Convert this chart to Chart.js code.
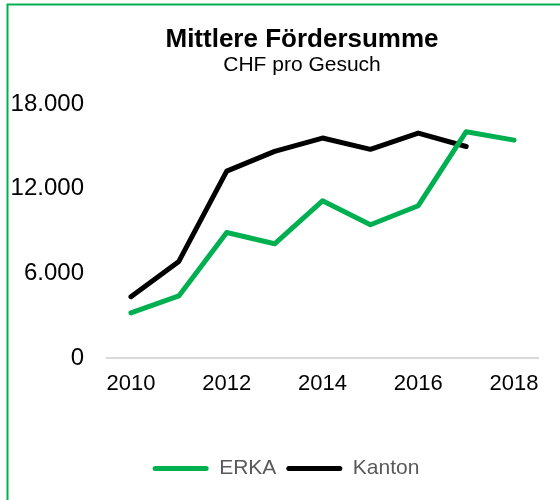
<!DOCTYPE html>
<html lang="de">
  <head>
    <meta charset="UTF-8" />
    <title>Mittlere Fördersumme</title>
    <script src="https://cdn.jsdelivr.net/npm/chart.js"></script>
    <style>
      html, body { margin: 0; padding: 0; background: #fff; }
    </style>
  </head>
  <body>
    <canvas id="chart" width="560" height="500"></canvas>
    <script>
      const years = ["2010", "2011", "2012", "2013", "2014", "2015", "2016", "2017", "2018"];
      const erka = [3200, 4400, 8900, 8100, 11150, 9450, 10800, 16050, 15450];
      const kanton = [4350, 6850, 13250, 14650, 15600, 14800, 15950, 15000, null];
      const yTicks = [0, 6000, 12000, 18000];

      const titleText = "Mittlere Fördersumme";
      const subtitleText = "CHF pro Gesuch";
      const green = "#00B050";
      const font = "Liberation Sans";

      const framePlugin = {
        id: "frame",
        afterLayout(chart) {
          // title and legend are not centred on the whole width in the original
          chart.boxes.forEach(b => {
            if (b.options && (b.options.text === titleText || b.options.text === subtitleText)) b.left = 66;
          });
          if (chart.legend) chart.legend.left = 34;
        },
        // green frame around the chart (cut off on the right and bottom)
        afterDraw(chart) {
          const ctx = chart.ctx;
          ctx.save();
          ctx.strokeStyle = green;
          ctx.lineWidth = 2;
          ctx.strokeRect(7.5, 4.5, 600, 600);
          ctx.restore();
        }
      };

      new Chart(document.getElementById("chart"), {
        type: "line",
        data: {
          labels: years,
          datasets: [
            { label: "ERKA", data: erka, borderColor: green, backgroundColor: green },
            { label: "Kanton", data: kanton, borderColor: "#000", backgroundColor: "#000" }
          ]
        },
        options: {
          responsive: false,
          animation: false,
          layout: { padding: { left: 0, right: 22, top: 0, bottom: 11 } },
          elements: {
            point: { radius: 0 },
            line: { borderWidth: 5, tension: 0, borderCapStyle: "round", borderJoinStyle: "round" }
          },
          plugins: {
            title: {
              display: true,
              text: titleText,
              color: "#000",
              font: { family: font, size: 26, weight: "bold", lineHeight: 1 },
              padding: { top: 27, bottom: 0 }
            },
            subtitle: {
              display: true,
              text: subtitleText,
              color: "#000",
              font: { family: font, size: 21 },
              padding: { top: 0, bottom: 26 }
            },
            legend: {
              position: "bottom",
              labels: {
                boxWidth: 56,
                boxHeight: 5,
                color: "#595959",
                font: { family: font, size: 21 },
                padding: 10,
                generateLabels: function (chart) {
                  return Chart.defaults.plugins.legend.labels.generateLabels(chart)
                    .map(l => Object.assign(l, { lineWidth: 0, borderRadius: 2.5 }));
                }
              }
            },
            tooltip: { enabled: false }
          },
          scales: {
            x: {
              offset: true,
              grid: { display: false },
              border: { display: true, color: "#d9d9d9", width: 2 },
              ticks: {
                autoSkip: false,
                maxRotation: 0,
                color: "#000",
                font: { family: font, size: 22 },
                padding: 5,
                callback: function (v, i) { return i % 2 === 0 ? years[i] : ""; }
              },
              afterFit: function (s) { s.height = 90; }
            },
            y: {
              min: 0,
              max: 18000,
              grid: { display: false },
              border: { display: false },
              afterBuildTicks: function (s) { s.ticks = yTicks.map(v => ({ value: v })); },
              ticks: {
                color: "#000",
                font: { family: font, size: 24 },
                padding: 15,
                callback: function (v) { return v.toLocaleString("de-DE"); }
              },
              afterFit: function (s) { s.width = 107; }
            }
          }
        },
        plugins: [framePlugin]
      });
    </script>
  </body>
</html>
